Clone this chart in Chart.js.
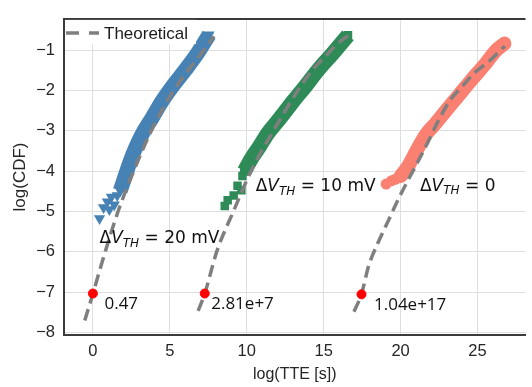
<!DOCTYPE html>
<html><head><meta charset="utf-8">
<script src="https://cdn.jsdelivr.net/npm/chart.js@4"></script>
<style>html,body{margin:0;padding:0;background:#fff}</style>
</head><body>
<canvas id="c" width="532" height="387"></canvas>
<script>
// ---- axes ----
const xTicks = [0, 5, 10, 15, 20, 25];
const yTicks = [-8, -7, -6, -5, -4, -3, -2, -1];
const xTitle = 'log(TTE [s])';
const yTitle = 'log(CDF)';
const legendLabel = 'Theoretical';

// ---- measured data (band centre lines, ascending x) ----
const blueX = [1.78, 2.10, 2.42, 2.80, 3.25, 3.83, 4.47, 5.17, 6.01, 6.78, 7.55];
const blueY = [-4.48, -4.12, -3.76, -3.40, -3.05, -2.69, -2.28, -1.90, -1.49, -1.09, -0.62];
const blueTailX = [0.43, 0.69, 0.94, 1.07, 1.20, 1.39, 1.58, 1.78];
const blueTailY = [-5.17, -4.90, -4.76, -4.95, -4.64, -4.83, -4.60, -4.48];

const greenX = [9.85, 10.30, 10.81, 11.39, 12.16, 12.99, 13.83, 14.65, 15.55, 16.58];
const greenY = [-4.00, -3.69, -3.40, -3.05, -2.69, -2.28, -1.89, -1.49, -1.10, -0.635];
const greenTailX = [8.57, 8.76, 9.15, 9.40, 9.65, 9.72, 9.85];
const greenTailY = [-4.86, -4.72, -4.60, -4.36, -4.47, -4.12, -4.00];

const salmonX = [20.01, 20.49, 21.05, 21.65, 22.20, 22.93, 23.76, 24.63, 25.54, 26.18, 26.75];
const salmonY = [-4.12, -3.88, -3.48, -3.09, -2.85, -2.51, -2.13, -1.73, -1.33, -1.02, -0.84];
const salmonTailX = [19.06, 19.40, 19.66, 20.01];
const salmonTailY = [-4.32, -4.24, -4.20, -4.12];

// ---- theoretical curves ----
const theo1X = [-0.53, 0.00, 0.81, 1.65, 2.67, 3.83, 5.24, 7.03, 7.87];
const theo1Y = [-7.70, -7.03, -5.98, -4.98, -3.98, -2.97, -2.01, -1.09, -0.66];
const theo2X = [6.84, 7.27, 8.06, 9.15, 10.30, 11.78, 13.31, 14.28, 15.04, 15.88, 16.71];
const theo2Y = [-7.46, -7.03, -5.98, -4.98, -3.98, -2.97, -2.01, -1.49, -1.18, -0.85, -0.61];
const theo3X = [16.97, 17.46, 17.93, 18.51, 19.21, 19.92, 20.56, 21.20, 21.78, 22.35, 23.19, 23.96, 24.79, 25.81, 26.78];
const theo3Y = [-7.48, -7.04, -6.34, -5.79, -5.22, -4.64, -4.17, -3.71, -3.28, -2.83, -2.26, -1.92, -1.57, -1.26, -0.90];

// ---- red marks and annotations ----
const markX = [0.00, 7.27, 17.46];
const markY = [-7.03, -7.03, -7.05];
const markText = ['0.47', '2.81e+7', '1.04e+17'];
const markTextX = [0.75, 7.69, 18.27];
const markTextY = [-7.42, -7.42, -7.44];
const dvText = [' = 20 mV', ' = 10 mV', ' = 0'];
const dvX = [0.43, 10.58, 21.26];
const dvY = [-5.79, -4.50, -4.48];

const BLUE = '#4682b4', GREEN = '#2e8b57', SALMON = '#fa8072', DASH = '#7f7f7f';
const pts = (xs, ys) => xs.map((v, i) => ({x: v, y: ys[i]}));

const datasets = [
  {data: pts(markX, markY), backgroundColor: '#ff0000', borderColor: '#ff0000', pointRadius: 4.5, showLine: false, order: 0},
  ...[[theo1X, theo1Y], [theo2X, theo2Y], [theo3X, theo3Y]].map(([xs, ys]) => ({
    data: pts(xs, ys), showLine: true, borderColor: DASH, borderWidth: 3.5, borderDash: [12, 6],
    pointRadius: 0, cubicInterpolationMode: 'monotone', fill: false, order: 1})),
  {data: pts(blueTailX, blueTailY), showLine: false, pointStyle: 'triangle', rotation: 180, pointRadius: 6.5,
   backgroundColor: BLUE, borderColor: BLUE, borderWidth: 0, order: 2},
  {data: pts(greenTailX, greenTailY), showLine: false, pointStyle: 'rect', pointRadius: 6,
   backgroundColor: GREEN, borderColor: GREEN, borderWidth: 0, order: 2},
  {data: pts(salmonTailX, salmonTailY), showLine: false, pointStyle: 'circle', pointRadius: 5.5,
   backgroundColor: SALMON, borderColor: SALMON, borderWidth: 0, order: 2},
  {data: pts(blueX, blueY), showLine: true, borderColor: BLUE, borderWidth: 15, borderCapStyle: 'butt',
   borderJoinStyle: 'round', cubicInterpolationMode: 'monotone', pointStyle: 'triangle', rotation: 180,
   pointRadius: 6.5, backgroundColor: BLUE, pointBorderWidth: 0, fill: false, order: 3},
  {data: pts(greenX, greenY), showLine: true, borderColor: GREEN, borderWidth: 15, borderCapStyle: 'butt',
   borderJoinStyle: 'round', cubicInterpolationMode: 'monotone', pointStyle: 'rect',
   pointRadius: 6, backgroundColor: GREEN, pointBorderWidth: 0, fill: false, order: 3},
  {data: pts(salmonX, salmonY), showLine: true, borderColor: SALMON, borderWidth: 14, borderCapStyle: 'round',
   borderJoinStyle: 'round', cubicInterpolationMode: 'monotone', pointStyle: 'circle',
   pointRadius: 5.5, backgroundColor: SALMON, pointBorderWidth: 0, fill: false, order: 3}
];

const annot = {
  id: 'annot',
  afterDatasetsDraw(chart) {
    const {ctx, chartArea: ca} = chart;
    const sx = chart.scales.x, sy = chart.scales.y;
    ctx.save();
    ctx.fillStyle = '#111';
    ctx.textBaseline = 'alphabetic';
    ctx.textAlign = 'left';
    // number labels
    ctx.font = '17px "Open Sans"';
    markText.forEach((t, i) => ctx.fillText(t, sx.getPixelForValue(markTextX[i]), sy.getPixelForValue(markTextY[i])));
    // delta V labels
    dvText.forEach((t, i) => {
      let cx = sx.getPixelForValue(dvX[i]);
      const cy = sy.getPixelForValue(dvY[i]);
      ctx.font = '17px "DejaVu Sans"';
      ctx.fillText('\u0394', cx, cy); cx += ctx.measureText('\u0394').width;
      ctx.font = 'italic 17px "DejaVu Sans"';
      ctx.fillText('V', cx, cy); cx += ctx.measureText('V').width;
      ctx.font = 'italic 12px "DejaVu Sans"';
      ctx.fillText('TH', cx, cy + 3.5); cx += ctx.measureText('TH').width;
      ctx.font = '17px "DejaVu Sans"';
      ctx.fillText(t, cx, cy);
    });
    // top spine
    ctx.strokeStyle = '#3a3a3a'; ctx.lineWidth = 2;
    ctx.beginPath(); ctx.moveTo(ca.left, ca.top); ctx.lineTo(ca.right, ca.top); ctx.stroke();
    // legend
    ctx.fillStyle = '#fff';
    ctx.fillRect(ca.left + 1, ca.top + 1, 131, 24);
    ctx.strokeStyle = DASH; ctx.lineWidth = 3.5; ctx.setLineDash([13, 10]);
    ctx.beginPath(); ctx.moveTo(ca.left + 2, ca.top + 14); ctx.lineTo(ca.left + 35, ca.top + 14); ctx.stroke();
    ctx.setLineDash([]);
    ctx.fillStyle = '#1a1a1a';
    ctx.font = '17px "Liberation Sans", Arial, sans-serif';
    ctx.fillText(legendLabel, ca.left + 40, ca.top + 20);
    ctx.restore();
  }
};

const tickFont = {family: '"Liberation Sans", Arial, sans-serif', size: 16.5};
const minus = v => String(v).replace('-', '\u2212');

new Chart(document.getElementById('c'), {
  type: 'scatter',
  data: {datasets},
  plugins: [annot],
  options: {
    responsive: false, animation: false, devicePixelRatio: 1,
    layout: {padding: {top: 7, right: 0, left: 0, bottom: 0}},
    plugins: {legend: {display: false}, tooltip: {enabled: false}},
    scales: {
      x: {
        type: 'linear', min: -1.88, max: 28.12,
        afterBuildTicks: s => { s.ticks = xTicks.map(v => ({value: v})); },
        afterFit: s => { s.height = 52; },
        ticks: {font: tickFont, color: '#262626', padding: 7, callback: v => minus(v), maxRotation: 0},
        grid: {color: '#dedede', lineWidth: 1, drawTicks: false},
        border: {display: true, color: '#3a3a3a', width: 2},
        title: {display: true, text: xTitle, font: {family: '"Liberation Sans", Arial, sans-serif', size: 16},
                color: '#262626', padding: {top: 0, bottom: 3}}
      },
      y: {
        type: 'linear', min: -8.057, max: -0.229,
        afterBuildTicks: s => { s.ticks = yTicks.map(v => ({value: v})); },
        afterFit: s => { s.width = 64; },
        ticks: {font: tickFont, color: '#262626', padding: 9, callback: v => minus(v)},
        grid: {color: '#dedede', lineWidth: 1, drawTicks: false},
        border: {display: true, color: '#3a3a3a', width: 2},
        title: {display: true, text: yTitle, font: {family: '"Liberation Sans", Arial, sans-serif', size: 17},
                color: '#262626', padding: {top: 10, bottom: 0}}
      }
    }
  }
});
</script>
</body></html>
